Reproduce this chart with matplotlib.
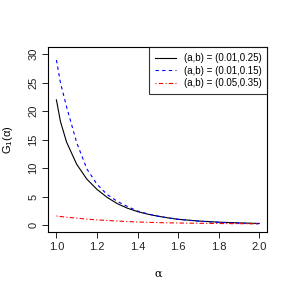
import matplotlib
matplotlib.use("Agg")
import matplotlib.pyplot as plt

# values
alpha = [1.0, 1.02, 1.05, 1.10, 1.15, 1.20, 1.25, 1.30, 1.35, 1.40, 1.45,
         1.50, 1.55, 1.60, 1.70, 1.80, 1.90, 2.0]
g_025 = [22.0, 18.2, 14.6, 10.7, 8.1, 6.3, 4.9, 3.8, 3.0, 2.4, 1.95,
         1.6, 1.3, 1.05, 0.75, 0.55, 0.42, 0.32]
g_015 = [29.0, 25.0, 20.8, 14.5, 9.9, 7.2, 5.4, 4.2, 3.3, 2.5, 2.0,
         1.6, 1.3, 1.05, 0.72, 0.5, 0.36, 0.26]
g_035 = [1.63, 1.54, 1.42, 1.25, 1.08, 0.95, 0.84, 0.74, 0.66, 0.58, 0.52,
         0.47, 0.43, 0.40, 0.35, 0.31, 0.28, 0.26]
labels = ["(a,b) = (0.01,0.25)", "(a,b) = (0.01,0.15)", "(a,b) = (0.05,0.35)"]
xticks = [1.0, 1.2, 1.4, 1.6, 1.8, 2.0]
yticks = [0, 5, 10, 15, 20, 25, 30]

plt.rcParams['font.family'] = ['Liberation Sans', 'DejaVu Sans']
plt.rcParams['mathtext.fontset'] = 'custom'
plt.rcParams['mathtext.rm'] = 'Liberation Sans'

fig = plt.figure(figsize=(2.92, 2.92), dpi=100)
ax = fig.add_axes([0.1654, 0.2045, 0.75, 0.6336])

ax.plot(alpha, g_025, color='black', lw=0.8, label=labels[0])
ax.plot(alpha, g_015, color='blue', lw=0.8, ls=(0, (3, 3)), label=labels[1])
ax.plot(alpha, g_035, color='red', lw=0.8, ls=(0, (1, 2, 4, 2)), label=labels[2])

ax.set_xlim(0.96, 2.04)
ax.set_ylim(-1.23, 31.23)
ax.set_xticks(xticks)
ax.set_xticklabels(['%.1f' % v for v in xticks], fontsize=8)
ax.set_yticks(yticks)
ax.set_yticklabels([str(v) for v in yticks], fontsize=8, rotation=90, va='center')
ax.tick_params(direction='out', length=4, width=0.7, pad=3, colors='#222222')
for s in ax.spines.values():
    s.set_linewidth(0.8)

ax.set_xlabel('α', fontsize=8, family='DejaVu Serif', labelpad=12)
ax.set_ylabel(r'G$_\mathrm{1}$(α)', fontsize=8, labelpad=10)

leg = ax.legend(loc='upper right', fontsize=7, frameon=True, fancybox=False,
                borderaxespad=0, handlelength=2.2, handletextpad=0.8,
                labelspacing=0.25, borderpad=0.6)
leg.get_frame().set_edgecolor('black')
leg.get_frame().set_linewidth(0.8)

plt.savefig('out.png', dpi=100)
